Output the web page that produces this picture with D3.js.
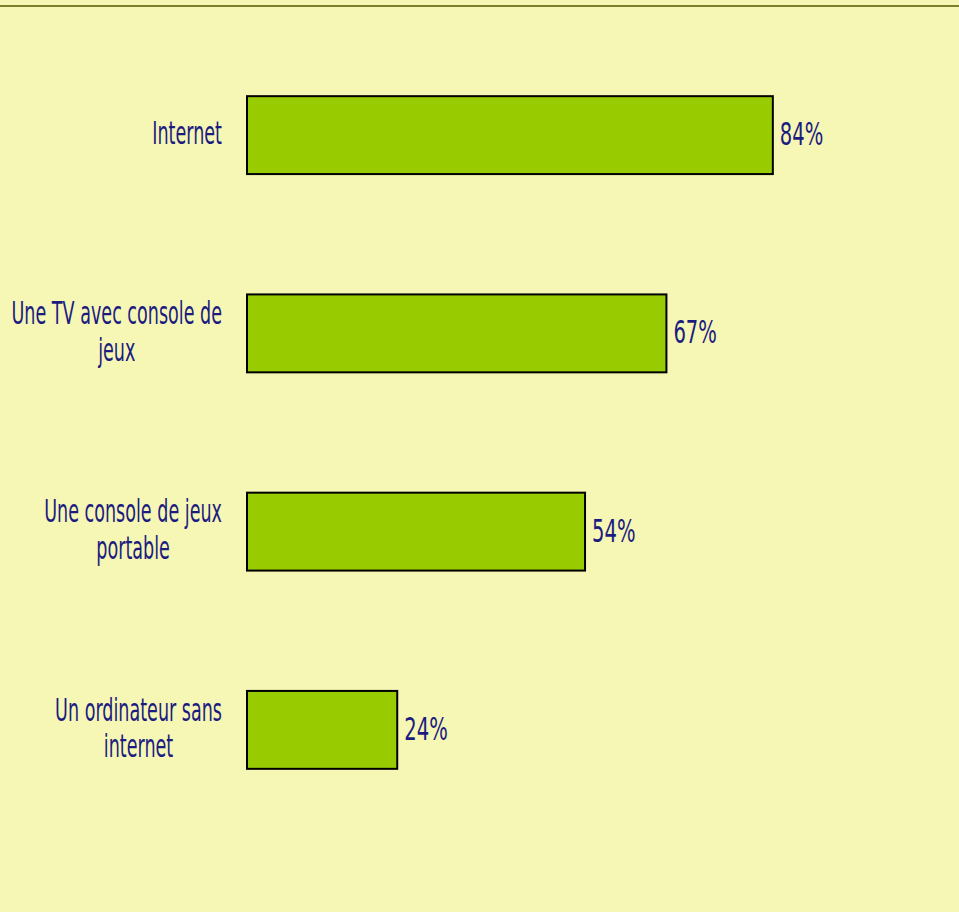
<!DOCTYPE html>
<html lang="fr">
<head>
<meta charset="UTF-8">
<title>Équipement</title>
<script src="https://d3js.org/d3.v7.min.js"></script>
<style>
  html, body { margin: 0; padding: 0; background: #f6f7b5; }
  svg { display: block; }
  .lbl { font-family: "Liberation Sans Narrow", "DejaVu Sans Condensed", "Roboto", sans-serif; font-size: 32px; fill: #1c1c80; }
</style>
</head>
<body>
<div id="chart"></div>
<script>
// données
const categories = [["Internet"], ["Une TV avec console de", "jeux"], ["Une console de jeux", "portable"], ["Un ordinateur sans", "internet"]];
const values = [84, 67, 54, 24];

const width = 959, height = 912;
const squeeze = 0.61; // police étroite

const svg = d3.select("#chart").append("svg")
    .attr("width", width)
    .attr("height", height);

svg.append("rect").attr("width", width).attr("height", height).attr("fill", "#f6f7b5");
svg.append("line")
    .attr("x1", 0).attr("x2", width)
    .attr("y1", 6).attr("y2", 6)
    .attr("stroke", "#7a7f2e").attr("stroke-width", 2);

const x = d3.scaleLinear().domain([0, 100]).range([247, 873]);
const y = d3.scaleBand().domain(d3.range(values.length)).range([36, 829])
    .paddingInner(0.607).paddingOuter(0.3035);

// barres
svg.selectAll("rect.bar")
    .data(values)
    .join("rect")
    .attr("class", "bar")
    .attr("x", x(0))
    .attr("y", (d, i) => y(i))
    .attr("width", d => x(d) - x(0))
    .attr("height", y.bandwidth())
    .attr("fill", "#99cc00")
    .attr("stroke", "#000")
    .attr("stroke-width", 2);

// étiquettes de catégorie
const lineH = 36.5;
categories.forEach((lines, i) => {
    const cy = y(i) + y.bandwidth() / 2;
    const g = svg.append("g");
    const texts = lines.map((t, j) => g.append("text")
        .attr("class", "lbl")
        .attr("text-anchor", "middle")
        .attr("y", cy + 9 + (j - (lines.length - 1) / 2) * lineH)
        .text(t));
    const w = d3.max(texts, t => t.node().getComputedTextLength()) * squeeze;
    const cx = 222 - w / 2;
    g.attr("transform", `translate(${cx},0) scale(${squeeze},1)`);
});

// valeurs
svg.selectAll("text.val")
    .data(values)
    .join("text")
    .attr("class", "val lbl")
    .attr("transform", (d, i) => `translate(${x(d) + 7},${y(i) + y.bandwidth() / 2 + 10}) scale(0.68,1)`)
    .text(d => d + "%");
</script>
</body>
</html>
